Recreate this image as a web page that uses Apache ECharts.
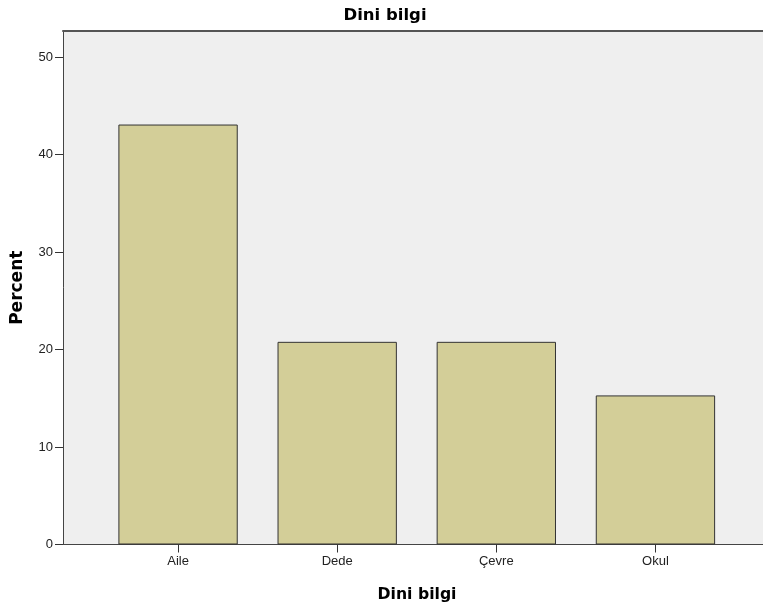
<!DOCTYPE html>
<html><head><meta charset="utf-8">
<script src="https://cdn.jsdelivr.net/npm/echarts@6/dist/echarts.min.js"></script>
<style>html,body{margin:0;padding:0;background:#fff}#c{width:763px;height:608px}</style>
</head><body><div id="c"></div>
<script>
const categories = ['Aile', 'Dede', 'Çevre', 'Okul'];
const percentValues = [43.1, 20.8, 20.8, 15.3];
const yTicks = [0, 10, 20, 30, 40, 50];

const font = 'Liberation Sans, Arial, sans-serif';
const boldFont = 'DejaVu Sans, sans-serif';
const chart = echarts.init(document.getElementById('c'));
const yMax = 52.7;
chart.setOption({
  animation: false,
  backgroundColor: '#ffffff',
  title: {
    text: 'Dini bilgi', left: 380, top: 2, textAlign: 'center',
    textStyle: { fontFamily: boldFont, fontSize: 16.5, fontWeight: 'bold', color: '#000' }
  },
  grid: [
    { left: 63, right: 0, top: 31, bottom: 63.5, show: true, backgroundColor: '#efefef', borderWidth: 0 },
    { left: 98.5, right: 28, top: 31, bottom: 63.5 }
  ],
  xAxis: [
    { gridIndex: 0, type: 'category', data: [''], position: 'bottom',
      axisLine: { show: true, lineStyle: { color: '#444', width: 1 } },
      axisTick: { show: false }, axisLabel: { show: false },
      name: 'Dini bilgi', nameLocation: 'middle', nameGap: 42,
      nameTextStyle: { fontFamily: boldFont, fontSize: 15.7, fontWeight: 'bold', color: '#000', padding: [0, 0, 0, 8] }
    },
    { gridIndex: 0, type: 'category', data: [''], position: 'top',
      axisLine: { show: true, lineStyle: { color: '#555', width: 2 } },
      axisTick: { show: false }, axisLabel: { show: false } },
    { gridIndex: 1, type: 'category', data: categories,
      axisLine: { show: false },
      axisTick: { show: true, length: 8, alignWithLabel: true, lineStyle: { color: '#333' } },
      axisLabel: { fontFamily: font, fontSize: 13, color: '#222', margin: 10 } }
  ],
  yAxis: [
    { gridIndex: 0, type: 'value', min: 0, max: yMax, interval: 10,
      axisLine: { show: true, lineStyle: { color: '#444', width: 1 } },
      axisTick: { show: true, length: 8, lineStyle: { color: '#333' } },
      splitLine: { show: false },
      axisLabel: { fontFamily: font, fontSize: 13, color: '#222', margin: 10, showMaxLabel: false,
        formatter: v => (yTicks.indexOf(v) >= 0 ? String(v) : '') },
      name: 'Percent', nameLocation: 'middle', nameGap: 37, nameRotate: 90,
      nameTextStyle: { fontFamily: boldFont, fontSize: 17, fontWeight: 'bold', color: '#000' }
    },
    { gridIndex: 1, type: 'value', min: 0, max: yMax, show: false }
  ],
  series: [{
    type: 'bar', xAxisIndex: 2, yAxisIndex: 1,
    data: percentValues, barWidth: '75%',
    itemStyle: { color: '#d3ce98', borderColor: '#333', borderWidth: 1 }
  }]
});
</script></body></html>
